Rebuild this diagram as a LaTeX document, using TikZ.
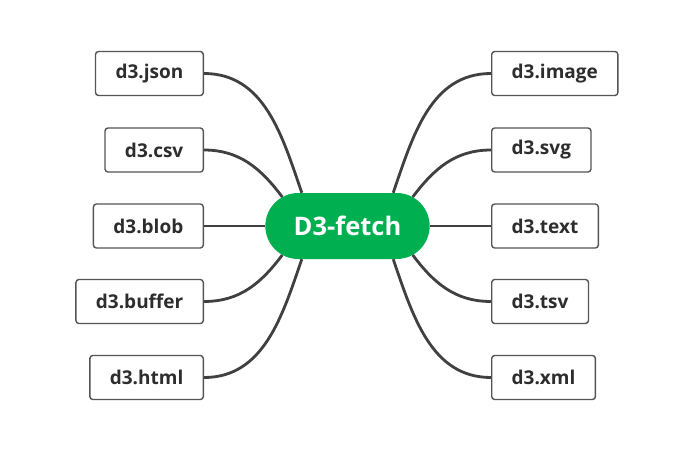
\documentclass[tikz,border=0pt]{standalone}
\usepackage{fontspec}
\setmainfont{Open Sans}
\usetikzlibrary{shapes.misc}
\definecolor{fetchgreen}{RGB}{0,175,80}
\definecolor{textgray}{RGB}{45,45,45}
\definecolor{boxgray}{RGB}{85,85,85}
\definecolor{linegray}{RGB}{64,64,64}
\begin{document}
\begin{tikzpicture}[x=1pt,y=1pt,
  leaf/.style={draw=boxgray,line width=1.4pt,rounded corners=3pt,fill=white,
    minimum height=44pt,inner xsep=20pt,text=textgray,
    font=\fontsize{19}{22}\selectfont\bfseries},
  hub/.style={rounded rectangle,fill=fetchgreen,minimum width=171pt,
    minimum height=66pt,text=white,font=\fontsize{25.5}{30}\selectfont\bfseries},
  branch/.style={draw=linegray,line width=2.8pt}]

\useasboundingbox[fill=white] (0,0) rectangle (682,451);

\node[hub] (fetch) at (347.5,225) {D3-fetch};

% left side
\node[leaf,anchor=east] (json)   at (204,377.5) {d3.json};
\node[leaf,anchor=east] (csv)    at (204,301)   {d3.csv};
\node[leaf,anchor=east] (blob)   at (204,225)   {d3.blob};
\node[leaf,anchor=east] (buffer) at (204,149.5) {d3.buffer};
\node[leaf,anchor=east] (html)   at (204,73.5)  {d3.html};

% right side
\node[leaf,anchor=west] (image) at (491,377.5) {d3.image};
\node[leaf,anchor=west] (svg)   at (491,301)   {d3.svg};
\node[leaf,anchor=west] (text)  at (491,225)   {d3.text};
\node[leaf,anchor=west] (tsv)   at (491,149.5) {d3.tsv};
\node[leaf,anchor=west] (xml)   at (491,73.5)  {d3.xml};

\draw[branch] (json.east)   to[out=0,in=109]  (fetch.144);
\draw[branch] (csv.east)    to[out=0,in=127]  (fetch.156);
\draw[branch] (blob.east)   --                (fetch.west);
\draw[branch] (buffer.east) to[out=0,in=233]  (fetch.204);
\draw[branch] (html.east)   to[out=0,in=251]  (fetch.216);

\draw[branch] (image.west) to[out=180,in=71]  (fetch.36);
\draw[branch] (svg.west)   to[out=180,in=53]  (fetch.24);
\draw[branch] (text.west)  --                 (fetch.east);
\draw[branch] (tsv.west)   to[out=180,in=-53] (fetch.-24);
\draw[branch] (xml.west)   to[out=180,in=-71] (fetch.-36);

\end{tikzpicture}
\end{document}
